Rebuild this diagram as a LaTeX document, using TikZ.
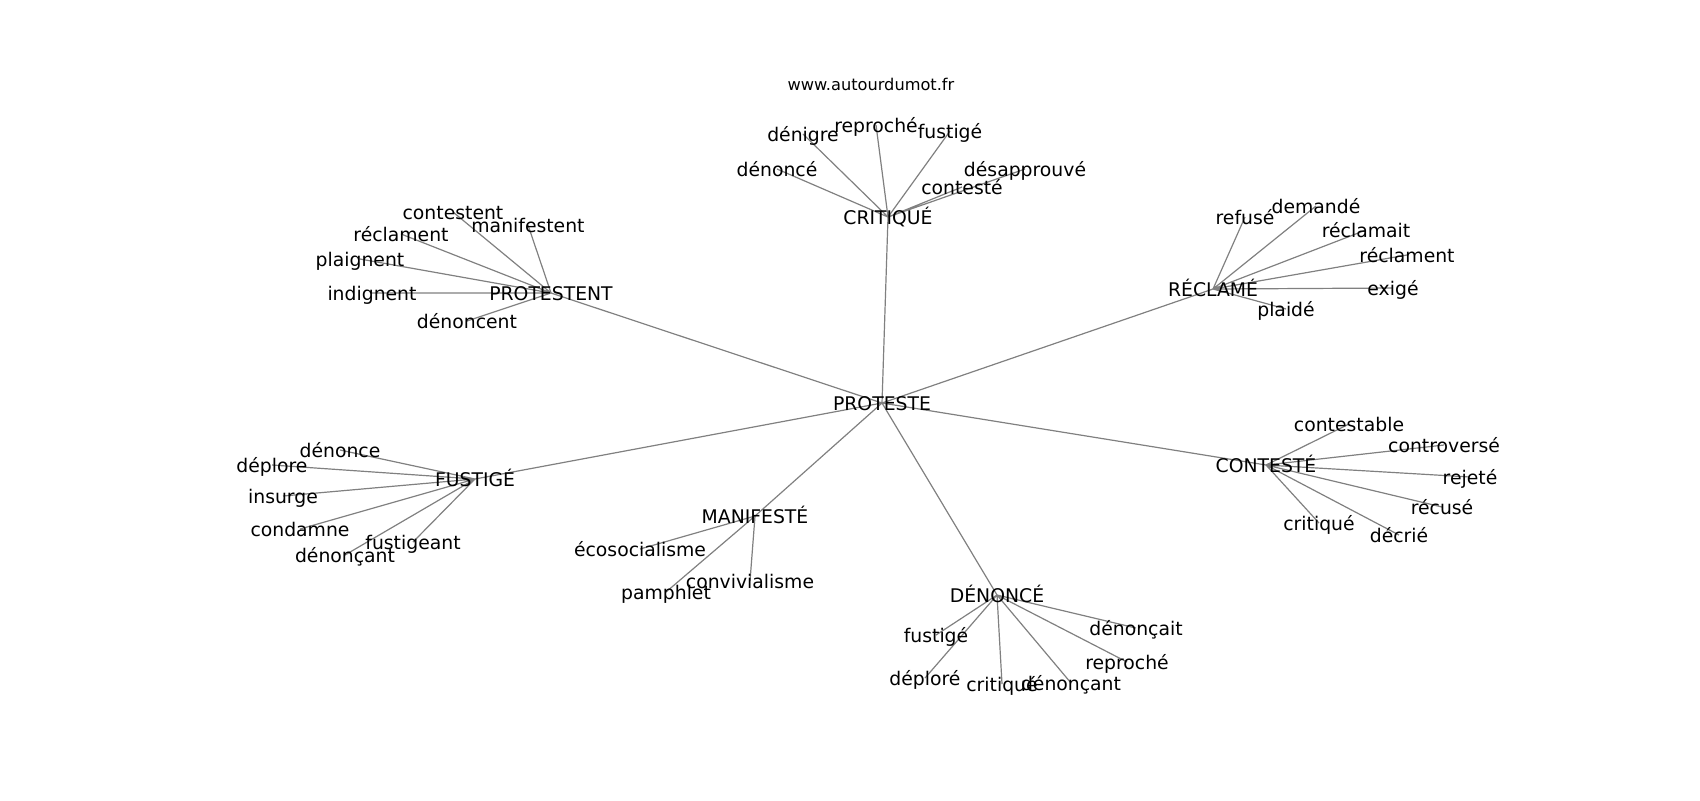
\documentclass[tikz,border=0pt]{standalone}
\usepackage{fontspec}
\setmainfont{DejaVu Sans}
\usepackage{xcolor}
\definecolor{EdgeGrey}{HTML}{808080}
\definecolor{WordBlack}{HTML}{000000}
\usepackage{tikz}
\usetikzlibrary{backgrounds}
\newcommand\WordSize{\fontsize{9.4}{11}\selectfont}
\newcommand\SiteSize{\fontsize{8.1}{10}\selectfont}
\tikzstyle{word}=[inner sep=0pt,text=WordBlack,text height=9.4pt,text depth=2.3pt,font=\WordSize]
\tikzstyle{site}=[inner sep=0pt,text=WordBlack,font=\SiteSize]
\tikzstyle{link}=[draw=EdgeGrey,line width=0.6pt]

\begin{document}
\begin{tikzpicture}[x=0.5pt,y=-0.5pt]
      \useasboundingbox (0,0) rectangle (1700,800);
      \node[site] (site) at (871,84) {www.autourdumot.fr};
      \node[word] (proteste) at (882,403) {PROTESTE};
      \node[word] (critique) at (888,217) {CRITIQUÉ};
      \node[word] (protestent) at (551,293) {PROTESTENT};
      \node[word] (reclame) at (1213,289) {RÉCLAMÉ};
      \node[word] (fustige) at (475,479) {FUSTIGÉ};
      \node[word] (conteste) at (1266,465) {CONTESTÉ};
      \node[word] (denonce) at (997,595) {DÉNONCÉ};
      \node[word] (manifeste) at (755,516) {MANIFESTÉ};
      \node[word] (crDenonce) at (777,169) {dénoncé};
      \node[word] (crDenigre) at (803,134) {dénigre};
      \node[word] (crReproche) at (876,125) {reproché};
      \node[word] (crFustige) at (950,131) {fustigé};
      \node[word] (crDesapprouve) at (1025,169) {désapprouvé};
      \node[word] (crConteste) at (962,187) {contesté};
      \node[word] (ptContestent) at (453,212) {contestent};
      \node[word] (ptManifestent) at (528,225) {manifestent};
      \node[word] (ptReclament) at (401,234) {réclament};
      \node[word] (ptPlaignent) at (360,259) {plaignent};
      \node[word] (ptIndignent) at (372,293) {indignent};
      \node[word] (ptDenoncent) at (467,321) {dénoncent};
      \node[word] (rcRefuse) at (1245,217) {refusé};
      \node[word] (rcDemande) at (1316,206) {demandé};
      \node[word] (rcReclamait) at (1366,230) {réclamait};
      \node[word] (rcReclament) at (1407,255) {réclament};
      \node[word] (rcExige) at (1393,288) {exigé};
      \node[word] (rcPlaide) at (1286,309) {plaidé};
      \node[word] (fsDenonce) at (340,450) {dénonce};
      \node[word] (fsDeplore) at (272,465) {déplore};
      \node[word] (fsInsurge) at (283,496) {insurge};
      \node[word] (fsCondamne) at (300,529) {condamne};
      \node[word] (fsFustigeant) at (413,542) {fustigeant};
      \node[word] (fsDenoncant) at (345,555) {dénonçant};
      \node[word] (ctContestable) at (1349,424) {contestable};
      \node[word] (ctControverse) at (1444,445) {controversé};
      \node[word] (ctRejete) at (1470,477) {rejeté};
      \node[word] (ctRecuse) at (1442,507) {récusé};
      \node[word] (ctCritique) at (1319,523) {critiqué};
      \node[word] (ctDecrie) at (1399,535) {décrié};
      \node[word] (dnDenoncait) at (1136,628) {dénonçait};
      \node[word] (dnFustige) at (936,635) {fustigé};
      \node[word] (dnReproche) at (1127,662) {reproché};
      \node[word] (dnDeplore) at (925,678) {déploré};
      \node[word] (dnCritique) at (1002,684) {critiqué};
      \node[word] (dnDenoncant) at (1071,683) {dénonçant};
      \node[word] (mfEcosocialisme) at (640,549) {écosocialisme};
      \node[word] (mfPamphlet) at (666,592) {pamphlet};
      \node[word] (mfConvivialisme) at (750,581) {convivialisme};
      \begin{scope}[on background layer]
      \draw[link] (proteste.center) -- (critique.center) (proteste.center) -- (protestent.center)
                  (proteste.center) -- (reclame.center) (proteste.center) -- (fustige.center)
                  (proteste.center) -- (conteste.center) (proteste.center) -- (denonce.center)
                  (proteste.center) -- (manifeste.center);
      \draw[link] (critique.center) -- (crDenonce.center) (critique.center) -- (crDenigre.center)
                  (critique.center) -- (crReproche.center) (critique.center) -- (crFustige.center)
                  (critique.center) -- (crDesapprouve.center) (critique.center) -- (crConteste.center);
      \draw[link] (protestent.center) -- (ptContestent.center) (protestent.center) -- (ptManifestent.center)
                  (protestent.center) -- (ptReclament.center) (protestent.center) -- (ptPlaignent.center)
                  (protestent.center) -- (ptIndignent.center) (protestent.center) -- (ptDenoncent.center);
      \draw[link] (reclame.center) -- (rcRefuse.center) (reclame.center) -- (rcDemande.center)
                  (reclame.center) -- (rcReclamait.center) (reclame.center) -- (rcReclament.center)
                  (reclame.center) -- (rcExige.center) (reclame.center) -- (rcPlaide.center);
      \draw[link] (fustige.center) -- (fsDenonce.center) (fustige.center) -- (fsDeplore.center)
                  (fustige.center) -- (fsInsurge.center) (fustige.center) -- (fsCondamne.center)
                  (fustige.center) -- (fsFustigeant.center) (fustige.center) -- (fsDenoncant.center);
      \draw[link] (conteste.center) -- (ctContestable.center) (conteste.center) -- (ctControverse.center)
                  (conteste.center) -- (ctRejete.center) (conteste.center) -- (ctRecuse.center)
                  (conteste.center) -- (ctCritique.center) (conteste.center) -- (ctDecrie.center);
      \draw[link] (denonce.center) -- (dnDenoncait.center) (denonce.center) -- (dnFustige.center)
                  (denonce.center) -- (dnReproche.center) (denonce.center) -- (dnDeplore.center)
                  (denonce.center) -- (dnCritique.center) (denonce.center) -- (dnDenoncant.center);
      \draw[link] (manifeste.center) -- (mfEcosocialisme.center) (manifeste.center) -- (mfPamphlet.center)
                  (manifeste.center) -- (mfConvivialisme.center);
      \end{scope}
   \end{tikzpicture}
\end{document}
